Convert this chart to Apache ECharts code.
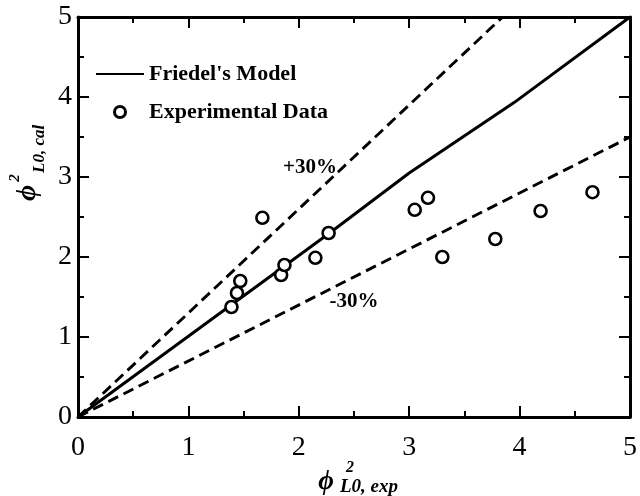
<!DOCTYPE html>
<html>
<head>
<meta charset="utf-8">
<script src="https://cdn.jsdelivr.net/npm/echarts@6/dist/echarts.min.js"></script>
<style>html,body{margin:0;padding:0;background:#fff;}#c{width:640px;height:496px;}</style>
</head>
<body>
<div id="c"></div>
<script>
// Data
var xTicks = [0, 1, 2, 3, 4, 5];
var yTicks = [0, 1, 2, 3, 4, 5];
var friedelModel = [[0, 0], [1, 1.01], [2.27, 2.29], [3, 3.05], [3.95, 3.93], [5, 5]];
var plus30 = [[0, 0], [3.846, 5]];
var minus30 = [[0, 0], [5, 3.5]];
var expX = [1.39, 1.44, 1.47, 1.67, 1.84, 1.87, 2.15, 2.27, 3.05, 3.17, 3.30, 3.78, 4.19, 4.66];
var expY = [1.375, 1.55, 1.70, 2.49, 1.775, 1.90, 1.99, 2.30, 2.59, 2.74, 2.00, 2.225, 2.575, 2.81];

var expData = expX.map(function (x, i) { return [x, expY[i]]; });
var SERIF = '"Liberation Serif", "Times New Roman", serif';

var chart = echarts.init(document.getElementById('c'));

function axisCommon(showLabel) {
  return {
    type: 'value', min: xTicks[0], max: xTicks[xTicks.length - 1], interval: 1,
    axisLine: { show: true, onZero: false, lineStyle: { color: '#000', width: 3 } },
    axisTick: { show: true, inside: true, length: 11, lineStyle: { color: '#000', width: 2 } },
    minorTick: { show: true, splitNumber: 2, length: 6, lineStyle: { color: '#000', width: 2 } },
    splitLine: { show: false },
    axisLabel: { show: showLabel, fontFamily: SERIF, fontSize: 28, color: '#000' }
  };
}

var xB = axisCommon(true); xB.position = 'bottom'; xB.axisLabel.margin = 17;
var xT = axisCommon(false); xT.position = 'top';
var yL = axisCommon(true); yL.position = 'left'; yL.axisLabel.margin = 6;
yL.min = yTicks[0]; yL.max = yTicks[yTicks.length - 1];
var yR = axisCommon(false); yR.position = 'right';
yR.min = yTicks[0]; yR.max = yTicks[yTicks.length - 1];

var titleFont = function (size) { return 'italic bold ' + size + 'px ' + SERIF; };
function txt(x, y, text, font, align, rot) {
  return {
    type: 'text', x: x, y: y, rotation: rot || 0, silent: true,
    style: { text: text, font: font, fill: '#000', align: align, verticalAlign: 'middle',
             textAlign: align, textVerticalAlign: 'middle' }
  };
}

chart.setOption({
  animation: false,
  backgroundColor: '#fff',
  grid: { left: 78, right: 8, top: 17, bottom: 79 },
  xAxis: [xB, xT],
  yAxis: [yL, yR],
  legend: {
    orient: 'vertical', left: 95, top: 63, padding: 0,
    itemWidth: 48, itemHeight: 11, itemGap: 16,
    itemStyle: { borderWidth: 3 },
    textStyle: { fontFamily: SERIF, fontWeight: 'bold', fontSize: 22, color: '#000' },
    data: [
      { name: "Friedel's Model", itemStyle: { color: 'rgba(0,0,0,0)', borderWidth: 0, opacity: 0 } },
      { name: 'Experimental Data', icon: 'circle', itemStyle: { color: '#fff', borderColor: '#000', borderWidth: 3 } }
    ]
  },
  series: [
    {
      name: "Friedel's Model", type: 'line', data: friedelModel, symbol: 'none',
      lineStyle: { color: '#000', width: 3 }, itemStyle: { color: '#000' }, z: 3
    },
    {
      name: '+30%', type: 'line', data: plus30, symbol: 'none',
      lineStyle: { color: '#000', width: 2.9, type: [11, 6] }, z: 2
    },
    {
      name: '-30%', type: 'line', data: minus30, symbol: 'none',
      lineStyle: { color: '#000', width: 2.9, type: [11, 6] }, z: 2
    },
    {
      name: 'Experimental Data', type: 'scatter', data: expData, symbol: 'circle', symbolSize: 12,
      itemStyle: { color: '#fff', borderColor: '#000', borderWidth: 2.6, opacity: 1 }, z: 5
    }
  ],
  graphic: [
    txt(310, 168, '+30%', 'bold 21px ' + SERIF, 'center'),
    txt(354, 302, '-30%', 'bold 21px ' + SERIF, 'center'),
    // x-axis title
    txt(326, 482, 'ϕ', titleFont(27), 'center'),
    txt(350, 468, '2', titleFont(16), 'center'),
    txt(340, 487, 'L0, exp', titleFont(19), 'left'),
    // y-axis title (rotated)
    txt(28, 193, 'ϕ', titleFont(28), 'center', Math.PI / 2),
    txt(15, 178, '2', titleFont(15), 'center', Math.PI / 2),
    txt(40, 173, 'L0, cal', titleFont(17), 'left', Math.PI / 2)
  ]
});
</script>
</body>
</html>
